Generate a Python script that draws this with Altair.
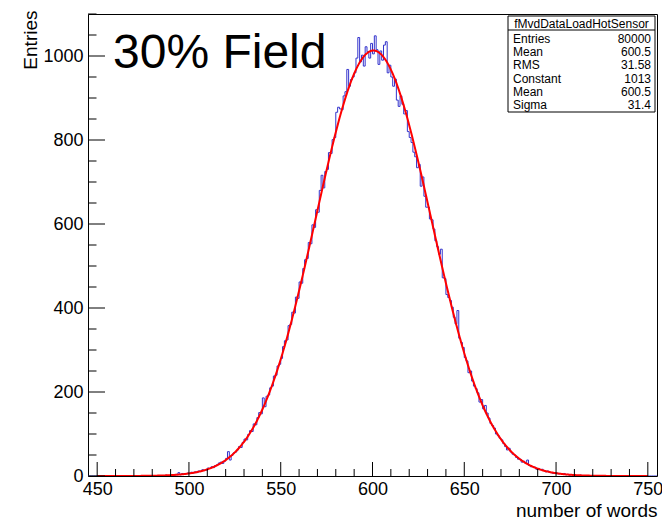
import altair as alt
import numpy as np
import pandas as pd

# ---- histogram: fMvdDataLoadHotSensor, unit-width bins over [445, 755) ----
BIN_LOW = 445
BIN_HIGH = 755
FIRST_FILLED_BIN = 480
# bin contents for bins 480 ... 719 (ten bins per row)
FILLED_COUNTS = [
    0, 0, 1, 0, 1, 0, 1, 2, 1, 1,
    2, 3, 2, 4, 8, 3, 6, 4, 5, 7,
    6, 9, 7, 10, 8, 12, 11, 15, 13, 14,
    19, 18, 22, 20, 25, 27, 31, 33, 30, 35,
    42, 58, 38, 49, 55, 57, 62, 70, 68, 80,
    88, 86, 99, 108, 106, 124, 122, 139, 151, 148,
    186, 165, 190, 193, 210, 214, 238, 240, 262, 266,
    280, 308, 322, 324, 358, 361, 390, 388, 426, 423,
    462, 459, 494, 515, 518, 556, 553, 598, 592, 634,
    628, 680, 716, 686, 725, 730, 770, 768, 801, 806,
    866, 878, 874, 872, 905, 915, 968, 928, 944, 950,
    960, 995, 1044, 986, 1002, 976, 1022, 1010, 995, 1030,
    1005, 1048, 1015, 980, 1012, 990, 1026, 1034, 960, 978,
    950, 928, 945, 895, 880, 905, 885, 862, 870, 820,
    806, 794, 771, 760, 734, 742, 690, 712, 666, 640,
    640, 612, 610, 588, 560, 546, 528, 540, 472, 470,
    432, 425, 418, 402, 378, 362, 394, 328, 318, 306,
    282, 274, 246, 250, 226, 214, 208, 198, 176, 182,
    160, 168, 150, 138, 125, 120, 114, 100, 96, 90,
    86, 77, 70, 62, 66, 57, 52, 50, 44, 40,
    40, 33, 35, 30, 38, 25, 22, 22, 21, 16,
    18, 15, 16, 13, 10, 12, 9, 8, 6, 7,
    7, 5, 6, 4, 6, 3, 4, 2, 3, 1,
    2, 1, 1, 2, 0, 1, 0, 1, 0, 0,
]

# gaussian fit result
FIT_CONSTANT = 1013.0
FIT_MEAN = 600.5
FIT_SIGMA = 31.4
FIT_LOW, FIT_HIGH = 450, 750

# statistics box
STATS_TITLE = "fMvdDataLoadHotSensor"
STAT_NAMES = ["Entries", "Mean", "RMS", "Constant", "Mean", "Sigma"]
STAT_VALUES = ["80000", "600.5", "31.58", "1013", "600.5", "31.4"]

LABEL_TEXT = "30% Field"
X_TITLE = "number of words"
Y_TITLE = "Entries"

X_MAJOR = [450, 500, 550, 600, 650, 700, 750]
X_MINOR = [v for v in range(460, 750, 10) if v % 50]
Y_MAJOR = [0, 200, 400, 600, 800, 1000]
Y_MINOR = [v for v in range(50, 1101, 50) if v % 200 or v > 1000]

# ---- tables ----
n_bins = BIN_HIGH - BIN_LOW
counts = ([0] * (FIRST_FILLED_BIN - BIN_LOW) + FILLED_COUNTS)
counts += [0] * (n_bins - len(counts))
edges = list(range(BIN_LOW, BIN_HIGH + 1))
hist_df = pd.DataFrame({"edge": edges, "count": counts + [counts[-1]]})

fx = np.arange(FIT_LOW, FIT_HIGH + 0.001, 0.5)
fit_df = pd.DataFrame({
    "x": fx,
    "y": FIT_CONSTANT * np.exp(-0.5 * ((fx - FIT_MEAN) / FIT_SIGMA) ** 2),
})

# ---- layout (pixels) ----
W, H = 569, 462
FONT = "Liberation Sans"

xscale = alt.Scale(domain=[BIN_LOW, BIN_HIGH], nice=False, zero=False)
yscale = alt.Scale(domain=[0, 1100], nice=False, zero=True)

x_axis = alt.Axis(values=X_MAJOR, format="d", ticks=False, domain=False, grid=False,
                  labelFont=FONT, labelFontSize=18, labelColor="black",
                  labelPadding=4, labelFlush=False, title=X_TITLE,
                  titleFont=FONT, titleFontSize=19, titleFontWeight="normal",
                  titleColor="black", titleAnchor="end", titleAlign="right",
                  titleX=W, titleY=40, titleBaseline="alphabetic")
y_axis = alt.Axis(values=Y_MAJOR, format="d", ticks=False, domain=False, grid=False,
                  labelFont=FONT, labelFontSize=18, labelColor="black",
                  labelPadding=5, labelFlush=False, title=Y_TITLE,
                  titleFont=FONT, titleFontSize=19, titleFontWeight="normal",
                  titleColor="black", titleAngle=-90, titleAlign="right",
                  titleBaseline="alphabetic", titleX=-52, titleY=-4)

hist = alt.Chart(hist_df).mark_line(
    interpolate="step-after", color="#3333cc", strokeWidth=1, clip=True
).encode(
    x=alt.X("edge:Q", scale=xscale, axis=x_axis),
    y=alt.Y("count:Q", scale=yscale, axis=y_axis),
)

fit = alt.Chart(fit_df).mark_line(color="#ff0000", strokeWidth=2, clip=True).encode(
    x=alt.X("x:Q", scale=xscale),
    y=alt.Y("y:Q", scale=yscale),
)


def xticks(vals, length):
    return alt.Chart(pd.DataFrame({"v": vals})).mark_rule(color="black", strokeWidth=1).encode(
        x=alt.X("v:Q", scale=xscale), y=alt.value(H), y2=alt.value(H - length))


def yticks(vals, length):
    return alt.Chart(pd.DataFrame({"v": vals})).mark_rule(color="black", strokeWidth=1).encode(
        y=alt.Y("v:Q", scale=yscale), x=alt.value(0), x2=alt.value(length))


one = pd.DataFrame({"k": [0]})

label = alt.Chart(one).mark_text(
    text=LABEL_TEXT, font=FONT, fontSize=48, align="left", baseline="alphabetic", color="black"
).encode(x=alt.value(25), y=alt.value(54))

# stats box
BX0, BX1, BY0, BY1 = 420, 567, 2, 98
box = alt.Chart(one).mark_rect(fill="white", stroke="black", strokeWidth=1).encode(
    x=alt.value(BX0), x2=alt.value(BX1), y=alt.value(BY0), y2=alt.value(BY1))
sep = alt.Chart(one).mark_rule(color="black", strokeWidth=1).encode(
    x=alt.value(BX0), x2=alt.value(BX1), y=alt.value(BY0 + 14))
stat_layers = [box, sep,
               alt.Chart(one).mark_text(text=STATS_TITLE, font=FONT, fontSize=12,
                                        align="center", baseline="middle", color="black")
               .encode(x=alt.value((BX0 + BX1) / 2), y=alt.value(BY0 + 7.5))]
for i, (name, val) in enumerate(zip(STAT_NAMES, STAT_VALUES)):
    yy = BY0 + 23 + i * 13.2
    stat_layers.append(alt.Chart(one).mark_text(text=name, font=FONT, fontSize=12, align="left",
                                                baseline="middle", color="black")
                       .encode(x=alt.value(BX0 + 5), y=alt.value(yy)))
    stat_layers.append(alt.Chart(one).mark_text(text=val, font=FONT, fontSize=12, align="right",
                                                baseline="middle", color="black")
                       .encode(x=alt.value(BX1 - 4), y=alt.value(yy)))

chart = alt.layer(
    hist, fit,
    xticks(X_MAJOR, 14), xticks(X_MINOR, 7),
    yticks(Y_MAJOR, 17), yticks(Y_MINOR, 8.5),
    label, *stat_layers,
).properties(
    width=W, height=H,
    autosize=alt.AutoSizeParams(type="none"),
    padding={"left": 88, "top": 14, "right": 5, "bottom": 44},
    background="white",
).configure_view(stroke="black", strokeWidth=1)

chart.save("out.html", embed_options={"renderer": "svg", "actions": False})
